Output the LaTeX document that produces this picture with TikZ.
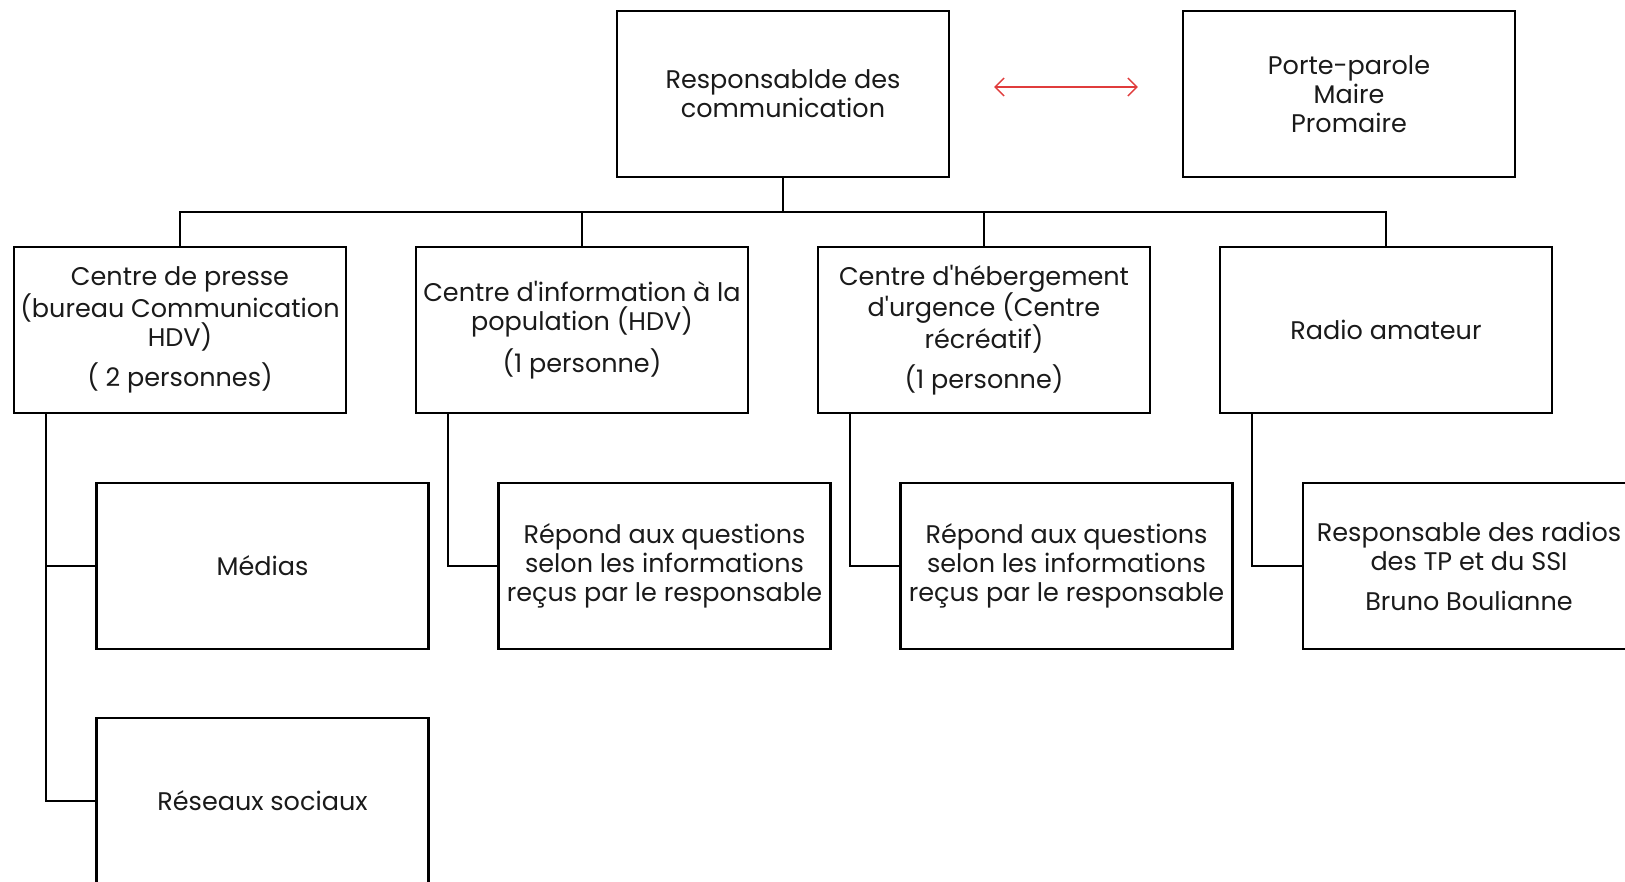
\documentclass[tikz,border=0pt]{standalone}
\usepackage{fontspec}
\setmainfont{Poppins}
\usetikzlibrary{arrows.meta}
\definecolor{txt}{HTML}{1A1A1A}
\definecolor{arrred}{HTML}{E03C3C}
\newcommand{\ap}{\textquotesingle}
\begin{document}
\begin{tikzpicture}[x=1pt,y=-1pt,
  box/.style={draw=black,line width=2.2pt,minimum width=332pt,minimum height=166pt,
    align=center,inner sep=0pt,text=txt,font=\fontsize{25.5}{29}\selectfont},
  link/.style={draw=black,line width=2.2pt},
  redarrow/.style={draw=arrred,line width=1.4pt,{Straight Barb[length=9pt,width=18pt]}-{Straight Barb[length=9pt,width=18pt]}}]
\useasboundingbox (0,0) rectangle (1625,882);
\node[box] (top) at (783,94) {Responsablde des\\communication};
\node[box] (pp) at (1349,94) {Porte-parole\\Maire\\Promaire};
\node[box] (b1) at (180,330) {Centre de presse\\(bureau Communication\\HDV)\\[11pt]( 2 personnes)};
\node[box] (b2) at (582,330) {Centre d\ap information à la\\population (HDV)\\[11pt](1 personne)};
\node[box] (b3) at (984,330) {Centre d\ap hébergement\\d\ap urgence (Centre\\récréatif)\\[11pt](1 personne)};
\node[box] (b4) at (1386,330) {Radio amateur};
\node[box] (m1) at (262.5,566) {Médias};
\node[box] (r1) at (664.5,566) {Répond aux questions\\selon les informations\\reçus par le responsable};
\node[box] (r2) at (1066.5,566) {Répond aux questions\\selon les informations\\reçus par le responsable};
\node[box] (r3) at (1469,566) {Responsable des radios\\des TP et du SSI\\[11pt]Bruno Boulianne};
\node[box] (res) at (262.5,801) {Réseaux sociaux};
\coordinate (bus) at (783,212);
\draw[link] (top.south) -- (bus);
\foreach \b in {b1,b2,b3,b4} {
  \draw[link] (\b.north) |- (bus);
}
\draw[link] ([xshift=33pt]b1.south west) |- (m1.west);
\draw[link] ([xshift=33pt]b1.south west) |- (res.west);
\draw[link] ([xshift=33pt]b2.south west) |- (r1.west);
\draw[link] ([xshift=33pt]b3.south west) |- (r2.west);
\draw[link] ([xshift=33pt]b4.south west) |- (r3.west);
\draw[redarrow] ([shift={(44pt,7pt)}]top.east) -- ([shift={(-44pt,7pt)}]pp.west);
\end{tikzpicture}
\end{document}
